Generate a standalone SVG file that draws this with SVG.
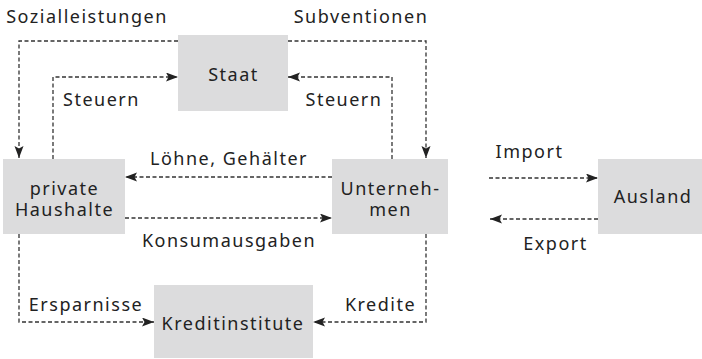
<svg xmlns="http://www.w3.org/2000/svg" width="702" height="359" viewBox="0 0 702 359">
<style>
.box{fill:#dcdcdd}
text{font-family:"Noto Sans","Open Sans",sans-serif;font-size:18px;fill:#222;text-anchor:middle;letter-spacing:1.5px}
.c{fill:none;stroke:#333;stroke-width:1.3;stroke-dasharray:4 2.5;marker-end:url(#a)}
</style>
<defs>
<marker id="a" markerUnits="userSpaceOnUse" markerWidth="14" markerHeight="10" refX="12" refY="4.5" orient="auto">
<path d="M0,0 L12,4.5 L0,9 L2.5,4.5 Z" fill="#222"/>
</marker>
</defs>
<g id="connectors">
<path class="c" d="M178,41 H19 V158"/>
<path class="c" d="M288,41 H426 V158"/>
<path class="c" d="M53,159 V77 H178"/>
<path class="c" d="M392,159 V77 H288"/>
<path class="c" d="M332,177 H125"/>
<path class="c" d="M125,218 H332"/>
<path class="c" d="M19,234 V322 H154"/>
<path class="c" d="M426,234 V322 H313"/>
<path class="c" d="M489,178 H598"/>
<path class="c" d="M598,219 H490"/>
</g>
<g id="labels">
<text x="87" y="23">Sozialleistungen</text>
<text x="361" y="23">Subventionen</text>
<text x="101.5" y="106">Steuern</text>
<text x="344" y="106">Steuern</text>
<text x="229" y="165">Löhne, Gehälter</text>
<text x="229" y="247">Konsumausgaben</text>
<text x="529.5" y="158">Import</text>
<text x="555.5" y="250">Export</text>
<text x="86" y="311">Ersparnisse</text>
<text x="380.5" y="311">Kredite</text>
</g>
<g id="staat">
<rect class="box" x="178" y="35" width="110" height="76"/>
<text x="233.5" y="81">Staat</text>
</g>
<g id="haushalte">
<rect class="box" x="3" y="159" width="122" height="75"/>
<text x="64.5" y="195">private<tspan x="64.5" dy="21">Haushalte</tspan></text>
</g>
<g id="unternehmen">
<rect class="box" x="332" y="159" width="116" height="75"/>
<text x="390.5" y="195">Unterneh-<tspan x="390.5" dy="21">men</tspan></text>
</g>
<g id="ausland">
<rect class="box" x="598" y="159" width="104" height="75"/>
<text x="653" y="203">Ausland</text>
</g>
<g id="kreditinstitute">
<rect class="box" x="154" y="285" width="159" height="73"/>
<text x="233" y="330">Kreditinstitute</text>
</g>
</svg>
